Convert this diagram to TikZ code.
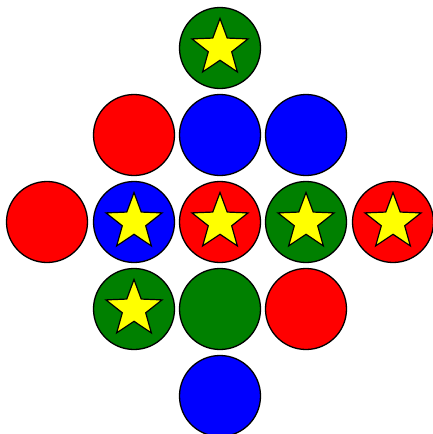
\documentclass[tikz,border=0pt]{standalone}
\definecolor{cgreen}{RGB}{0,128,0}
\definecolor{cred}{RGB}{255,0,0}
\definecolor{cblue}{RGB}{0,0,255}
\definecolor{cyellow}{RGB}{255,255,0}
\tikzset{
  disc/.style={circle, draw=black, line width=1.3pt, minimum size=81pt, inner sep=0pt},
  gdisc/.style={disc, fill=cgreen},
  rdisc/.style={disc, fill=cred},
  bdisc/.style={disc, fill=cblue},
  starpath/.style={draw=black, line width=1.2pt, fill=cyellow, line join=miter}
}
\newcommand{\starin}[1]{%
  \draw[starpath, shift={(#1.center)}]
    (270:29.5) -- (306:12.3) -- (342:29.5) -- (18:12.3) -- (54:29.5) -- (90:12.3)
    -- (126:29.5) -- (162:12.3) -- (198:29.5) -- (234:12.3) -- cycle;}
\begin{document}
\begin{tikzpicture}[x=1pt,y=-1pt]
\useasboundingbox (0,0) rectangle (433,434);
\node[gdisc] (a1) at (220,48) {};
\node[rdisc] (b1) at (134,135) {};
\node[bdisc] (b2) at (220,135) {};
\node[bdisc] (b3) at (306,135) {};
\node[rdisc] (c1) at (47,222) {};
\node[bdisc] (c2) at (134,222) {};
\node[rdisc] (c3) at (220,222) {};
\node[gdisc] (c4) at (306,222) {};
\node[rdisc] (c5) at (393,222) {};
\node[gdisc] (d1) at (134,309) {};
\node[gdisc] (d2) at (220,309) {};
\node[rdisc] (d3) at (306,309) {};
\node[bdisc] (e1) at (220,396) {};
\starin{a1}
\starin{c2}
\starin{c3}
\starin{c4}
\starin{c5}
\starin{d1}
\end{tikzpicture}
\end{document}
